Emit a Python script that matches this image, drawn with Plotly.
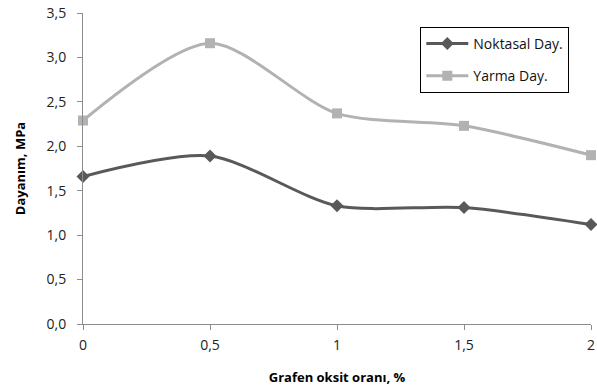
import plotly.graph_objects as go

x_vals = [0, 0.5, 1, 1.5, 2]
noktasal = [1.66, 1.89, 1.33, 1.31, 1.12]
yarma = [2.29, 3.16, 2.37, 2.23, 1.90]
x_ticks = [0, 0.5, 1, 1.5, 2]
x_tick_labels = ["0", "0,5", "1", "1,5", "2"]
y_ticks = [0, 0.5, 1, 1.5, 2, 2.5, 3, 3.5]
y_tick_labels = ["0,0", "0,5", "1,0", "1,5", "2,0", "2,5", "3,0", "3,5"]

FONT = "Open Sans, Liberation Sans, sans-serif"

fig = go.Figure()
fig.add_trace(go.Scatter(
    x=x_vals, y=noktasal, name="Noktasal Day.", mode="lines+markers",
    line=dict(color="#595959", width=3, shape="spline", smoothing=0.8),
    marker=dict(symbol="diamond", size=10, color="#595959"),
    cliponaxis=False, legendgroup="a",
))
fig.add_trace(go.Scatter(
    x=x_vals, y=yarma, name="Yarma Day.", mode="lines+markers",
    line=dict(color="#B2B2B2", width=3, shape="spline", smoothing=0.8),
    marker=dict(symbol="square", size=10, color="#B2B2B2"),
    cliponaxis=False, legendgroup="b",
))

fig.update_layout(
    width=597, height=389,
    margin=dict(l=83, r=6, t=13, b=65),
    paper_bgcolor="white", plot_bgcolor="white",
    font=dict(family=FONT, size=14, color="#222222"),
    showlegend=True,
    legend=dict(
        x=0.664, y=0.955, xanchor="left", yanchor="top",
        bordercolor="#000000", borderwidth=1, bgcolor="white",
        font=dict(size=14, color="#111111"),
        itemwidth=42, tracegroupgap=11,
    ),
    xaxis=dict(
        range=[0, 2], tickvals=x_ticks, ticktext=x_tick_labels,
        showgrid=False, zeroline=False, showline=True,
        linecolor="#8C8C8C", linewidth=1,
        ticks="outside", ticklen=5, tickcolor="#8C8C8C",
        automargin=False, ticklabelstandoff=3,
        title=dict(text="<b>Grafen oksit oranı, %</b>", font=dict(size=13, color="#000000"), standoff=20),
        tickfont=dict(size=14, color="#222222"),
    ),
    yaxis=dict(
        range=[0, 3.5], tickvals=y_ticks, ticktext=y_tick_labels,
        showgrid=False, zeroline=False, showline=True,
        linecolor="#8C8C8C", linewidth=1,
        ticks="outside", ticklen=5, tickcolor="#8C8C8C",
        automargin=False, ticklabelstandoff=8,
        title=dict(text="<b>Dayanım, MPa</b>", font=dict(size=13, color="#000000"), standoff=18),
        tickfont=dict(size=14, color="#222222"),
    ),
)

fig.write_html("out.html")
